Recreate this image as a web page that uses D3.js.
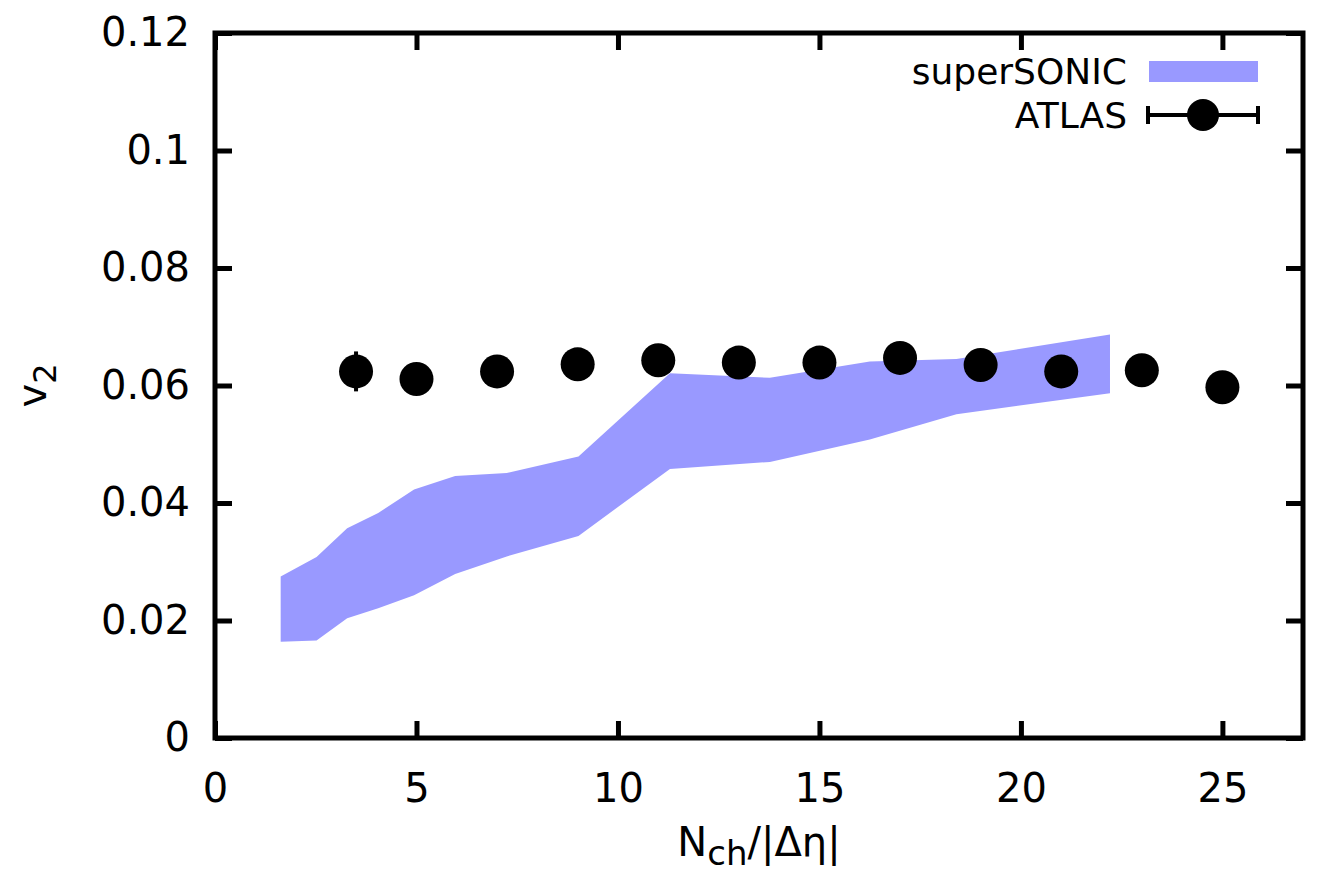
<!DOCTYPE html>
<html lang="en">
<head>
  <meta charset="UTF-8">
  <title>v2 vs Nch</title>
  <script src="https://cdn.jsdelivr.net/npm/d3@7"></script>
  <style>
    body { margin: 0; background: white; }
    text { font-family: "DejaVu Sans", sans-serif; fill: black; }
  </style>
</head>
<body>
  <svg id="chart" width="1323" height="876"></svg>
<script>
  // superSONIC band (lower / upper edge)
  var bandX  = [1.63, 2.52, 3.28, 4.05, 4.94, 5.96, 7.24, 9.02, 11.29, 13.77, 16.25, 18.40, 22.21];
  var bandHi = [0.0275, 0.0308, 0.0357, 0.0383, 0.0423, 0.0446, 0.0451, 0.0479, 0.0621, 0.0613, 0.0641, 0.0645, 0.0687];
  var bandLo = [0.0164, 0.0166, 0.0204, 0.0221, 0.0243, 0.0279, 0.0309, 0.0344, 0.0458, 0.0470, 0.0508, 0.0551, 0.0587];

  // ATLAS points
  var atlasX   = [3.5, 5, 7, 9, 11, 13, 15, 17, 19, 21, 23, 25];
  var atlasY   = [0.0624, 0.0611, 0.0624, 0.0636, 0.0643, 0.0639, 0.0639, 0.0647, 0.0635, 0.0624, 0.0626, 0.0597];
  var atlasErr = [0.0034, 0.0015, 0.0015, 0.0015, 0.0015, 0.0015, 0.0015, 0.0015, 0.0015, 0.0015, 0.0015, 0.0015];

  var xTicks = [0, 5, 10, 15, 20, 25];
  var yTicks = [0, 0.02, 0.04, 0.06, 0.08, 0.1, 0.12];
  var legendLabels = ["superSONIC", "ATLAS"];

  var bandColor = "#9999ff";
  var margin = { top: 33, right: 20, bottom: 138, left: 215 };
  var width = 1303 - margin.left;
  var height = 738 - margin.top;

  var svg = d3.select("#chart");
  var g = svg.append("g")
    .attr("transform", "translate(" + margin.left + "," + margin.top + ")");

  var x = d3.scaleLinear().domain([0, 27]).range([0, width]);
  var y = d3.scaleLinear().domain([0, 0.12]).range([height, 0]);

  // band
  var bandData = bandX.map(function (d, i) { return [d, bandLo[i], bandHi[i]]; });
  var area = d3.area()
    .x(function (d) { return x(d[0]); })
    .y0(function (d) { return y(d[1]); })
    .y1(function (d) { return y(d[2]); });
  g.append("path")
    .datum(bandData)
    .attr("d", area)
    .attr("fill", bandColor);

  // ATLAS error bars + points
  var atlas = atlasX.map(function (d, i) { return [d, atlasY[i], atlasErr[i]]; });
  var pts = g.append("g").selectAll("g").data(atlas).enter().append("g");
  pts.append("line")
    .attr("x1", function (d) { return x(d[0]); })
    .attr("x2", function (d) { return x(d[0]); })
    .attr("y1", function (d) { return y(d[1] - d[2]); })
    .attr("y2", function (d) { return y(d[1] + d[2]); })
    .attr("stroke", "black").attr("stroke-width", 4);
  pts.append("circle")
    .attr("cx", function (d) { return x(d[0]); })
    .attr("cy", function (d) { return y(d[1]); })
    .attr("r", 17)
    .attr("fill", "black");

  // axes, ticks on all four sides pointing inward
  var tickLen = 17;
  function styleAxis(sel) {
    sel.select(".domain").remove();
    sel.selectAll(".tick line").attr("stroke", "black").attr("stroke-width", 5);
    sel.selectAll(".tick text").style("font-size", "40px").style("font-family", "DejaVu Sans");
  }
  g.append("g").attr("transform", "translate(0," + height + ")")
    .call(d3.axisBottom(x).tickValues(xTicks).tickSizeInner(-tickLen).tickSizeOuter(0).tickPadding(36).tickFormat(d3.format("d")))
    .call(styleAxis);
  g.append("g")
    .call(d3.axisTop(x).tickValues(xTicks).tickSizeInner(-tickLen).tickSizeOuter(0).tickFormat(""))
    .call(styleAxis);
  g.append("g")
    .call(d3.axisLeft(y).tickValues(yTicks).tickSizeInner(-tickLen).tickSizeOuter(0).tickPadding(25)
      .tickFormat(function (d) { return d === 0 ? "0" : String(+d.toFixed(2)); }))
    .call(styleAxis);
  g.append("g").attr("transform", "translate(" + width + ",0)")
    .call(d3.axisRight(y).tickValues(yTicks).tickSizeInner(-tickLen).tickSizeOuter(0).tickFormat(""))
    .call(styleAxis);

  // frame
  g.append("rect")
    .attr("width", width).attr("height", height)
    .attr("fill", "none").attr("stroke", "black").attr("stroke-width", 5);

  // axis labels
  var xl = svg.append("text")
    .attr("x", margin.left + width / 2).attr("y", 856)
    .attr("text-anchor", "middle").style("font-size", "40px");
  xl.append("tspan").text("N");
  xl.append("tspan").attr("dy", 9).style("font-size", "34px").text("ch");
  xl.append("tspan").attr("dy", -9).text("/|Δη|");

  var yl = svg.append("text")
    .attr("transform", "translate(46," + (margin.top + height / 2) + ") rotate(-90)")
    .attr("text-anchor", "middle").style("font-size", "40px");
  yl.append("tspan").text("v");
  yl.append("tspan").attr("dy", 10).style("font-size", "32px").text("2");

  // legend
  var lg = svg.append("g");
  lg.append("text").attr("x", 1127).attr("y", 84).attr("text-anchor", "end")
    .style("font-size", "36px").text(legendLabels[0]);
  lg.append("rect").attr("x", 1149).attr("y", 61).attr("width", 109).attr("height", 21)
    .attr("fill", bandColor);
  lg.append("text").attr("x", 1127).attr("y", 128).attr("text-anchor", "end")
    .style("font-size", "36px").text(legendLabels[1]);
  lg.append("line").attr("x1", 1148).attr("x2", 1258).attr("y1", 115).attr("y2", 115)
    .attr("stroke", "black").attr("stroke-width", 4);
  lg.append("line").attr("x1", 1148).attr("x2", 1148).attr("y1", 106).attr("y2", 124)
    .attr("stroke", "black").attr("stroke-width", 4);
  lg.append("line").attr("x1", 1258).attr("x2", 1258).attr("y1", 106).attr("y2", 124)
    .attr("stroke", "black").attr("stroke-width", 4);
  lg.append("circle").attr("cx", 1203).attr("cy", 115).attr("r", 16).attr("fill", "black");
</script>
</body>
</html>
